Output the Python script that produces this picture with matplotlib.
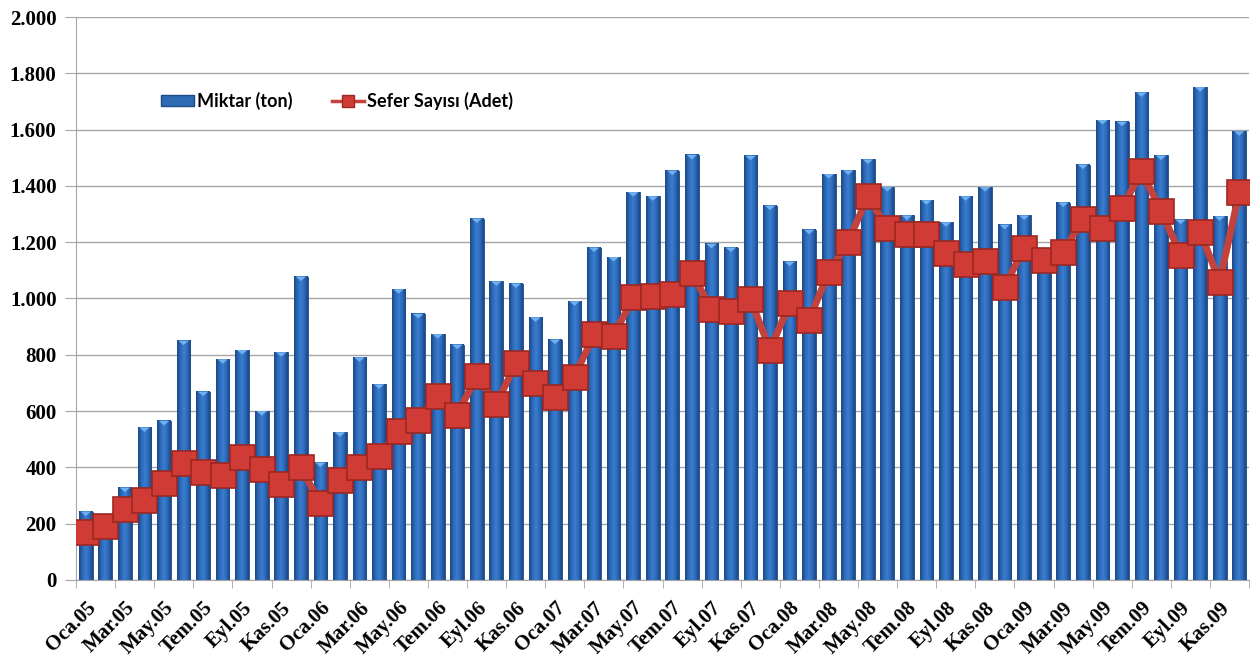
import numpy as np
import matplotlib.pyplot as plt
from matplotlib.colors import LinearSegmentedColormap
from matplotlib.lines import Line2D
from matplotlib.patches import Patch
from matplotlib.ticker import FuncFormatter

# data (monthly, Oca.05 - Ara.09)
months = ["Oca", "Şub", "Mar", "Nis", "May", "Haz",
          "Tem", "Ağu", "Eyl", "Eki", "Kas", "Ara"]
years = ["05", "06", "07", "08", "09"]
labels = [f"{m}.{y}" for y in years for m in months]

miktar = [243, 215, 328, 542, 565, 850, 669, 784, 817, 600, 809, 1078,
          417, 525, 791, 695, 1033, 945, 873, 836, 1284, 1061, 1053, 933,
          854, 990, 1181, 1147, 1378, 1363, 1454, 1510, 1194, 1181, 1507, 1330,
          1131, 1244, 1442, 1455, 1494, 1396, 1295, 1349, 1271, 1363, 1396, 1262,
          1295, 1130, 1341, 1476, 1634, 1628, 1732, 1508, 1280, 1751, 1292, 1594]

sefer = [169, 192, 252, 284, 345, 417, 384, 372, 438, 395, 342, 400,
         272, 355, 401, 442, 528, 570, 655, 586, 726, 624, 770, 699,
         651, 722, 873, 867, 1004, 1010, 1016, 1092, 962, 957, 998, 817,
         983, 924, 1094, 1201, 1363, 1249, 1230, 1229, 1160, 1123, 1134, 1041,
         1181, 1138, 1164, 1282, 1252, 1320, 1452, 1312, 1155, 1237, 1060, 1377]

# style
serif = ["Liberation Serif", "DejaVu Serif"]
plt.rcParams["font.family"] = serif
plt.rcParams["font.weight"] = "bold"
grid_col = "#A6A6A6"

fig = plt.figure(figsize=(12.5, 6.59), dpi=100)
ax = fig.add_axes([0.0608, 0.1199, 0.9384, 0.8543])

x = np.arange(len(miktar))
bars = ax.bar(x, miktar, width=0.7, color="#2E6BB5", edgecolor="#1B4A86",
              linewidth=0.6, zorder=2)

# fake the 3d shading of the excel bars
bar_cmap = LinearSegmentedColormap.from_list(
    "bar", ["#1A4685", "#2C69B8", "#3A7ED0", "#2C69B8", "#1A4685"])
grad = np.linspace(0, 1, 64).reshape(1, -1)
for b in bars:
    x0, w, h = b.get_x(), b.get_width(), b.get_height()
    ax.imshow(grad, extent=[x0, x0 + w, 0, h], aspect="auto", cmap=bar_cmap,
              zorder=2.1, interpolation="bicubic")
    ax.fill([x0 + 0.12 * w, x0 + 0.88 * w, x0 + 0.5 * w], [h, h, h - 16],
            color="#6FB0F0", zorder=2.2, lw=0)

ax.plot(x, sefer, color="#C4423C", lw=5, marker="s", ms=18,
        mfc="#D03C35", mec="#9C2722", mew=1.2, zorder=3)

ax.set_xlim(-0.5, len(miktar) - 0.5)
ax.set_ylim(0, 2000)
ax.set_yticks(np.arange(0, 2001, 200))
ax.yaxis.set_major_formatter(FuncFormatter(lambda v, p: f"{int(v):,}".replace(",", ".")))
ax.yaxis.grid(True, color=grid_col, lw=1)
ax.set_axisbelow(True)

ax.set_xticks(x[::2])
ax.set_xticklabels(labels[::2], rotation=45, ha="right", va="top",
                   rotation_mode="anchor")
ax.set_xticks(np.arange(-0.5, len(miktar), 2), minor=True)
ax.tick_params(axis="x", which="major", length=0, pad=13, labelsize=15)
ax.tick_params(axis="x", which="minor", length=6, color=grid_col)
ax.tick_params(axis="y", length=8, color=grid_col, labelsize=15, pad=6)
for t in ax.get_xticklabels() + ax.get_yticklabels():
    t.set_fontfamily(serif)
    t.set_fontweight("bold")

for s in ["top", "right"]:
    ax.spines[s].set_visible(False)
for s in ["left", "bottom"]:
    ax.spines[s].set_color(grid_col)

handles = [
    Patch(facecolor="#2E6BB5", edgecolor="#1B4A86", label="Miktar (ton)"),
    Line2D([], [], color="#C4423C", lw=2.5, marker="s", ms=9,
           mfc="#D03C35", mec="#9C2722", label="Sefer Sayısı (Adet)"),
]
ax.legend(handles=handles, loc="center left", bbox_to_anchor=(0.059, 0.851),
          ncol=2, frameon=False, handlelength=1.8, handleheight=0.55,
          columnspacing=2.2, handletextpad=0.15,
          prop={"family": "Lato", "weight": "bold", "size": 13})

fig.savefig("out.png", dpi=100)
